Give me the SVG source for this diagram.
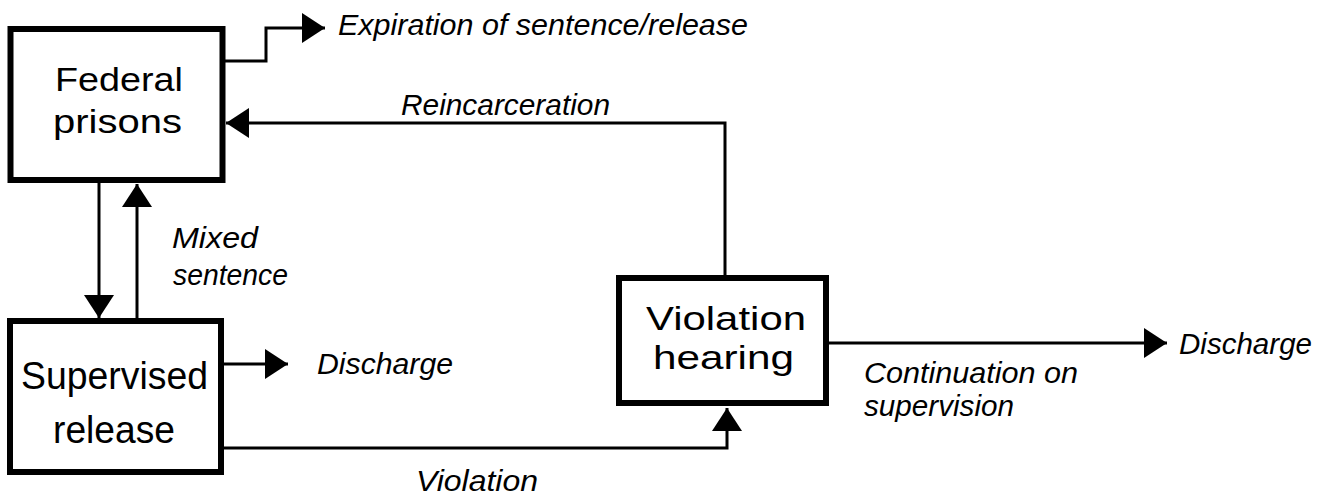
<svg xmlns="http://www.w3.org/2000/svg" width="1330" height="497" viewBox="0 0 1330 497">
<style>
  .box { fill: #ffffff; stroke: #000; stroke-width: 6; }
  .node { font-family: "Liberation Sans", Arial, sans-serif; font-size: 38px; fill: #000; }
  .tight { font-size: 34px; }
  .lbl { font-family: "Liberation Sans", Arial, sans-serif; font-size: 30px; font-style: italic; fill: #000; }
  .con { fill: none; stroke: #000; stroke-width: 3; marker-end: url(#arrow); }
</style>
<defs>
  <marker id="arrow" markerUnits="userSpaceOnUse" markerWidth="24" markerHeight="30" refX="23" refY="15" orient="auto">
    <path d="M0,0 L23,15 L0,30 Z" fill="#000"/>
  </marker>
</defs>
<rect width="1330" height="497" fill="#ffffff"/>

<g id="connectors">
  <path class="con" d="M225,61 H266 V28 H325"/>
  <path class="con" d="M725,275 V123 H226"/>
  <path class="con" d="M99,183 V318"/>
  <path class="con" d="M137,318 V184"/>
  <path class="con" d="M224,364 H288"/>
  <path class="con" d="M224,448 H727 V408"/>
  <path class="con" d="M829,343 H1167"/>
</g>

<g id="federal-prisons">
  <rect class="box" x="10.5" y="29" width="212" height="151"/>
  <text class="node tight" x="55" y="91" textLength="128" lengthAdjust="spacingAndGlyphs">Federal</text>
  <text class="node tight" x="53" y="133" textLength="129" lengthAdjust="spacingAndGlyphs">prisons</text>
</g>

<g id="supervised-release">
  <rect class="box" x="10" y="321" width="211" height="151"/>
  <text class="node" x="21" y="389" textLength="187" lengthAdjust="spacingAndGlyphs">Supervised</text>
  <text class="node" x="53" y="443" textLength="122" lengthAdjust="spacingAndGlyphs">release</text>
</g>

<g id="violation-hearing">
  <rect class="box" x="619" y="278" width="207" height="125"/>
  <text class="node tight" x="646" y="330" textLength="160" lengthAdjust="spacingAndGlyphs">Violation</text>
  <text class="node tight" x="653" y="369" textLength="141" lengthAdjust="spacingAndGlyphs">hearing</text>
</g>

<g id="labels">
  <text class="lbl" x="338" y="35" textLength="410" lengthAdjust="spacingAndGlyphs">Expiration of sentence/release</text>
  <text class="lbl" x="401" y="115" textLength="209" lengthAdjust="spacingAndGlyphs">Reincarceration</text>
  <text class="lbl" x="172" y="248" textLength="86" lengthAdjust="spacingAndGlyphs">Mixed</text>
  <text class="lbl" x="173" y="285" textLength="115" lengthAdjust="spacingAndGlyphs">sentence</text>
  <text class="lbl" x="317" y="374" textLength="136" lengthAdjust="spacingAndGlyphs">Discharge</text>
  <text class="lbl" x="416" y="491" textLength="122" lengthAdjust="spacingAndGlyphs">Violation</text>
  <text class="lbl" x="864" y="383" textLength="214" lengthAdjust="spacingAndGlyphs">Continuation on</text>
  <text class="lbl" x="864" y="416" textLength="150" lengthAdjust="spacingAndGlyphs">supervision</text>
  <text class="lbl" x="1179" y="354" textLength="133" lengthAdjust="spacingAndGlyphs">Discharge</text>
</g>
</svg>
